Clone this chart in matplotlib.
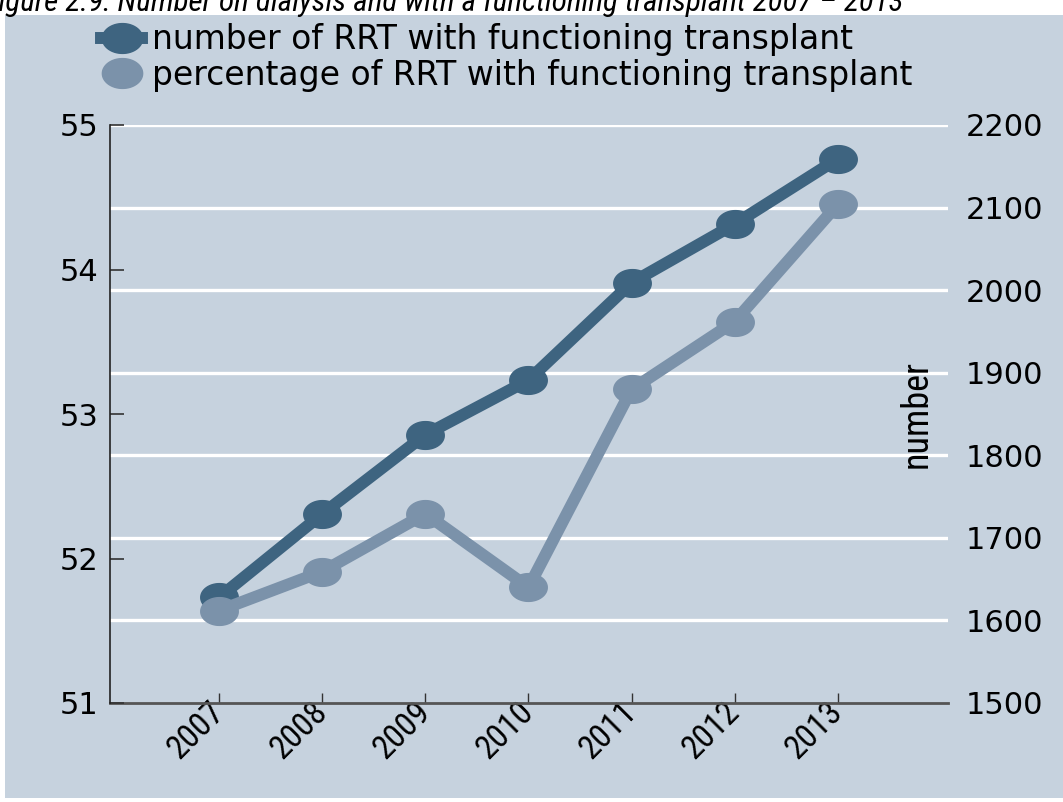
import numpy as np
import matplotlib
matplotlib.use("Agg")
import matplotlib.pyplot as plt
from matplotlib.path import Path
from matplotlib.patches import Rectangle
from matplotlib.lines import Line2D
from matplotlib import font_manager

# ---- data ----
years = [2007, 2008, 2009, 2010, 2011, 2012, 2013]
number_rrt = [1628, 1729, 1825, 1891, 2009, 2080, 2159]
percentage_rrt = [51.64, 51.91, 52.31, 51.80, 53.17, 53.64, 54.45]
left_ticks = [51, 52, 53, 54, 55]
right_ticks = [1500, 1600, 1700, 1800, 1900, 2000, 2100, 2200]
label_number = "number of RRT with functioning transplant"
label_pct = "percentage of RRT with functioning transplant"
title = "Figure 2.9: Number on dialysis and with a functioning transplant 2007 \u2013 2013"

DARK = "#3e6480"
LIGHT = "#7b92aa"
PANEL = "#c6d2de"

names = {f.name for f in font_manager.fontManager.ttflist}
NARROW = None
for cand in ["Liberation Sans Narrow", "Arial Narrow", "DejaVu Sans Condensed",
             "Roboto Condensed", "Open Sans Condensed", "Noto Sans Condensed",
             "Noto Sans Display Condensed"]:
    if cand in names:
        NARROW = dict(family=cand)
        break
HAVE_NARROW = NARROW is not None
if NARROW is None:
    NARROW = dict(family="DejaVu Sans")

W, H = 1063, 802
fig = plt.figure(figsize=(W / 100, H / 100), dpi=100)
fig.patch.set_facecolor("white")

# background panel
fig.add_artist(Rectangle((5 / W, 4 / H), (W - 5) / W, (H - 15 - 4) / H,
                         transform=fig.transFigure, facecolor=PANEL,
                         edgecolor="none", zorder=-10))

# ellipse marker
t = np.linspace(0, 2 * np.pi, 80)
ell = Path(np.column_stack([np.cos(t), 0.74 * np.sin(t)]), closed=True)

L, R, B, T = 110, 948, 703, 125
ax = fig.add_axes([L / W, 1 - B / H, (R - L) / W, (B - T) / H])
ax.patch.set_alpha(0)
ax2 = ax.twinx()
ax2.patch.set_alpha(0)

# number -> right axis (ax), percentage -> left axis (ax2, drawn on top)
ax.yaxis.tick_right()
ax.yaxis.set_label_position("right")
ax2.yaxis.tick_left()

ax.plot(years, number_rrt, color=DARK, lw=8.6, marker=ell, ms=27,
        solid_capstyle="butt", zorder=3)
ax2.plot(years, percentage_rrt, color=LIGHT, lw=8.6, marker=ell, ms=27,
         solid_capstyle="butt", zorder=3)

ax.set_xlim(2005.94, 2014.07)
ax.set_ylim(1500, 2200)
ax2.set_ylim(51, 55)

ax.set_yticks(right_ticks)
ax.set_yticklabels([str(v) for v in right_ticks])
ax.tick_params(axis="y", right=False, left=False, labelright=True, labelleft=False,
               length=0, labelsize=22, pad=13)
for v in right_ticks[1:]:
    ax.axhline(v, color="white", lw=2.4, zorder=1)

ax2.set_yticks(left_ticks)
ax2.set_yticklabels([str(v) for v in left_ticks])
ax2.tick_params(axis="y", left=True, right=False, labelleft=True, labelright=False,
                direction="in", length=10, width=1.2, color="#333333",
                labelsize=22, pad=8)

ax.set_xticks(years)
ax.set_xticklabels([str(y) for y in years], rotation=45, ha="right", va="center",
                   rotation_mode="anchor", fontsize=24 if HAVE_NARROW else 17,
                   **NARROW)
ax.tick_params(axis="x", direction="in", length=7, width=1, color="#333333",
               pad=3)
ax2.tick_params(axis="x", bottom=False, labelbottom=False)

for a in (ax, ax2):
    for s in ("top", "right"):
        a.spines[s].set_visible(False)
ax.spines["left"].set_visible(False)
ax2.spines["bottom"].set_visible(False)
ax2.spines["left"].set_color("#222222")
ax2.spines["left"].set_linewidth(1.2)
ax.spines["bottom"].set_color("#555555")
ax.spines["bottom"].set_linewidth(2)

ax.set_ylabel("number", fontsize=26 if HAVE_NARROW else 21, rotation=90, **NARROW)
ax.yaxis.set_label_coords((899 - L) / (R - L), 0.5)

# legend rows
h1 = Line2D([], [], color=DARK, lw=8.6, marker=ell, ms=29)
h2 = Line2D([], [], color=LIGHT, lw=0, marker=ell, ms=29)
common = dict(loc="center left", frameon=False, fontsize=23.8, handlelength=1.25,
              handletextpad=0.3, borderpad=0, borderaxespad=0)
fig.legend([h1], [label_number], bbox_to_anchor=(101 / W, 1 - 40 / H), **common)
fig.legend([h2], [label_pct], bbox_to_anchor=(101 / W, 1 - 75 / H), **common)

# title (cropped at top/left, as in the reference): fit "igure ..." to 0..903 px
fig.canvas.draw()
r = fig.canvas.get_renderer()
probe = fig.text(0, 0, title[1:], fontsize=20, style="italic", **NARROW)
wpx = probe.get_window_extent(r).width
probe.remove()
tsize = 20 * 903 / wpx
fig.text(903 / W, 1 - 11 / H, title, ha="right", va="baseline",
         fontsize=tsize, style="italic", **NARROW)

fig.savefig("out.png", dpi=100)
